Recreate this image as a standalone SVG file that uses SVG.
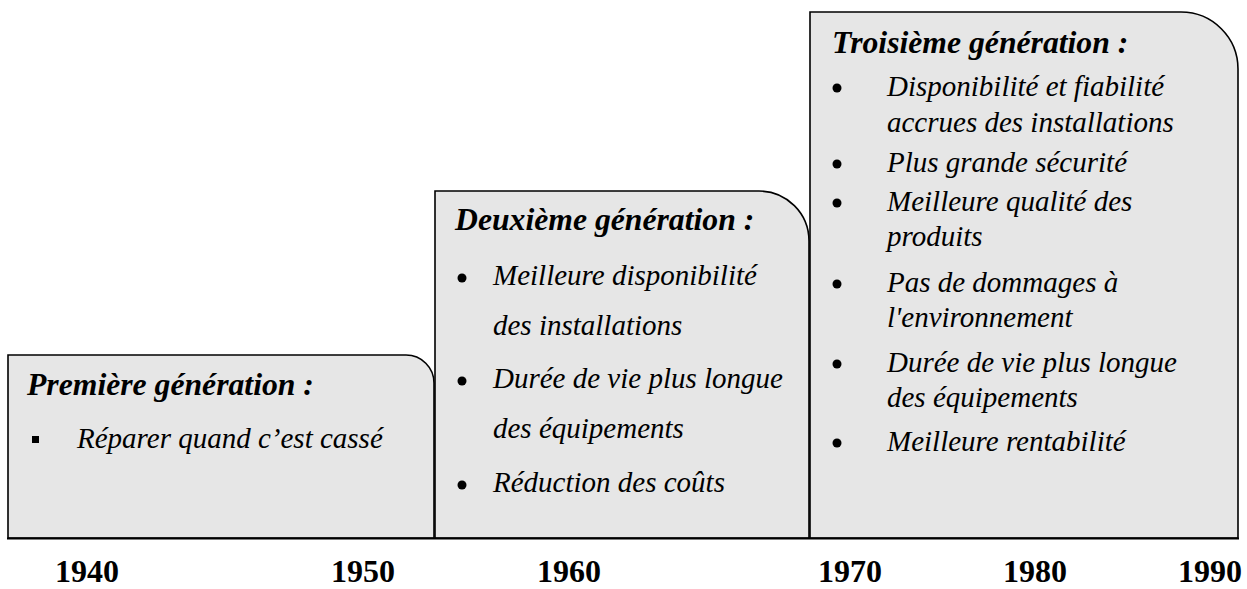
<svg xmlns="http://www.w3.org/2000/svg" width="1247" height="589" viewBox="0 0 1247 589">
<style>
.box{fill:#e6e6e6;stroke:#000;stroke-width:1.6}
text{font-family:'Liberation Serif','DejaVu Serif',serif;fill:#000}
.t{font-style:italic;font-weight:bold;font-size:31.7px}
.i{font-style:italic;font-size:29px}
.y{font-weight:bold;font-size:32px}
.b{fill:#000}
</style>
<rect width="1247" height="589" fill="#fff"/>
<g id="gen1">
<path class="box" d="M8,538 V355 H406 A28,28 0 0 1 434,383 V538 Z"/>
<text class="t" x="27" y="395">Première génération :</text>
<rect class="b" x="32" y="436" width="7" height="7"/>
<text class="i" x="77" y="448">Réparer quand c’est cassé</text>
</g>
<g id="gen2">
<path class="box" d="M435,538 V191 H759 A50,50 0 0 1 809,241 V538 Z"/>
<text class="t" x="455" y="230">Deuxième génération :</text>
<circle class="b" cx="462" cy="278" r="4.5"/>
<text class="i" x="493" y="285">Meilleure disponibilité</text>
<text class="i" x="493" y="335">des installations</text>
<circle class="b" cx="462" cy="381" r="4.5"/>
<text class="i" x="493" y="388">Durée de vie plus longue</text>
<text class="i" x="493" y="438">des équipements</text>
<circle class="b" cx="462" cy="485" r="4.5"/>
<text class="i" x="493" y="492">Réduction des coûts</text>
</g>
<g id="gen3">
<path class="box" d="M810,538 V12 H1181 A57,57 0 0 1 1238,69 V538 Z"/>
<text class="t" x="832" y="53">Troisième génération :</text>
<circle class="b" cx="837" cy="88" r="4.5"/>
<text class="i" x="887" y="96">Disponibilité et fiabilité</text>
<text class="i" x="887" y="132">accrues des installations</text>
<circle class="b" cx="837" cy="164" r="4.5"/>
<text class="i" x="887" y="172">Plus grande sécurité</text>
<circle class="b" cx="837" cy="203" r="4.5"/>
<text class="i" x="887" y="211">Meilleure qualité des</text>
<text class="i" x="887" y="246">produits</text>
<circle class="b" cx="837" cy="284" r="4.5"/>
<text class="i" x="887" y="292">Pas de dommages à</text>
<text class="i" x="887" y="327">l'environnement</text>
<circle class="b" cx="837" cy="364" r="4.5"/>
<text class="i" x="887" y="372">Durée de vie plus longue</text>
<text class="i" x="887" y="407">des équipements</text>
<circle class="b" cx="837" cy="443" r="4.5"/>
<text class="i" x="887" y="451">Meilleure rentabilité</text>
</g>
<g id="connectors">
<line x1="7" y1="538.5" x2="1239" y2="538.5" stroke="#000" stroke-width="2.2"/>
</g>
<g id="axis">
<text class="y" x="55" y="581.5">1940</text>
<text class="y" x="331" y="581.5">1950</text>
<text class="y" x="537" y="581.5">1960</text>
<text class="y" x="818" y="581.5">1970</text>
<text class="y" x="1003" y="581.5">1980</text>
<text class="y" x="1178" y="581.5">1990</text>
</g>
</svg>
